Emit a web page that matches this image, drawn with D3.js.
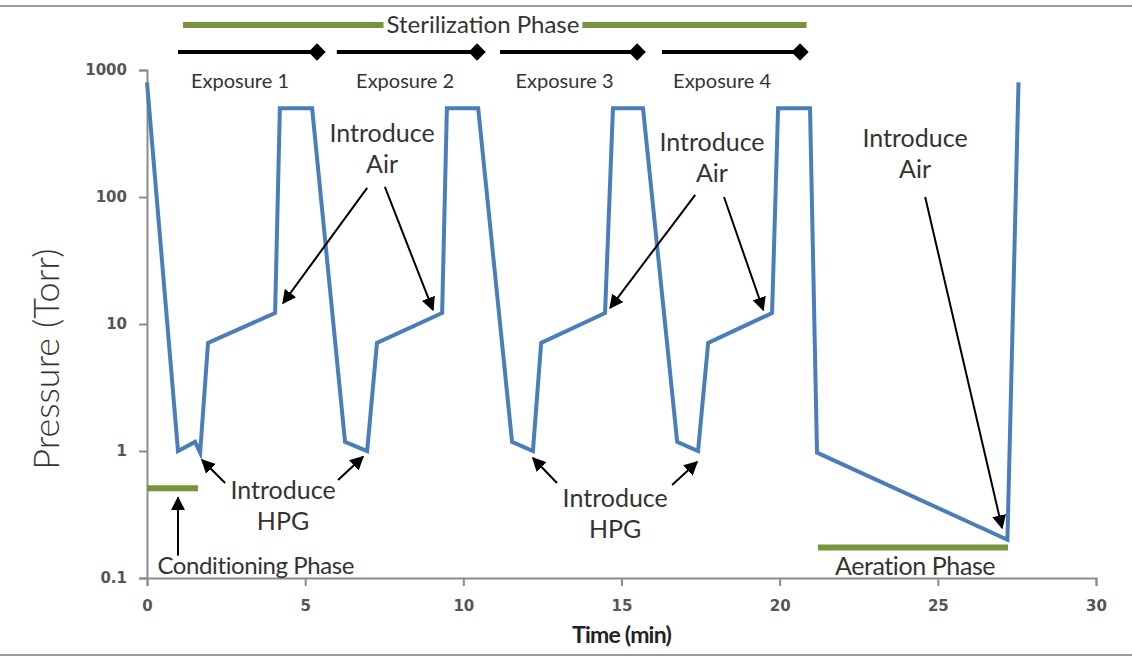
<!DOCTYPE html>
<html>
<head>
  <meta charset="utf-8">
  <title>pressure-cycle</title>
  <style>
    * { margin: 0; padding: 0; }
    body { background: #fff; }
    svg text { font-family: Lato, "Open Sans", sans-serif; fill: #333; }
    .tick text { font-family: "DejaVu Sans", sans-serif; font-weight: bold; font-size: 15px; fill: #555; }
    .domain, .tick line { stroke: #8c8c8c; stroke-width: 2; }
  </style>
</head>
<body>
  <svg id="svg"></svg>
  <script src="https://cdnjs.cloudflare.com/ajax/libs/d3/7.8.5/d3.min.js"></script>
  <script>
    const W = 1132, H = 658;
    const margin = { top: 70, right: 36, bottom: 80, left: 147 };

    // pressure trace (time in min, pressure in Torr)
    const times = [0, 0.98, 1.52, 1.68, 1.93, 4.05, 4.2, 5.22, 6.26, 6.96, 7.27, 9.33, 9.48, 10.47,
      11.54, 12.2, 12.46, 14.48, 14.73, 15.68, 16.76, 17.42, 17.74, 19.76, 19.95, 20.96, 21.18, 27.2, 27.55];
    const pressures = [800, 1.0, 1.18, 0.97, 7.1, 12.2, 500, 500, 1.18, 1.0, 7.1, 12.2, 500, 500,
      1.18, 1.0, 7.1, 12.2, 500, 500, 1.18, 1.0, 7.1, 12.2, 500, 500, 0.97, 0.2, 800];

    const xTicks = [0, 5, 10, 15, 20, 25, 30];
    const yTicks = [0.1, 1, 10, 100, 1000];

    // phases: [start, end] in minutes
    const exposures = [[0.98, 5.47], [6.0, 10.53], [11.16, 15.59], [16.28, 20.74]];
    const exposureLabels = ['Exposure 1', 'Exposure 2', 'Exposure 3', 'Exposure 4'];
    const exposureLabelT = [2.94, 8.16, 13.2, 18.18];
    const sterilization = [1.14, 20.85];
    const conditioning = [0, 1.61, 0.51];   // start, end, pressure level
    const aeration = [21.21, 27.22, 0.174];

    // annotations: text position and arrows [t0, p0, t1, p1]
    const notes = [
      { lines: ['Introduce', 'HPG'], t: 4.3, p: 0.49, arrows: [[2.47, 0.56, 1.74, 0.85], [6.04, 0.59, 6.83, 0.9]] },
      { lines: ['Introduce', 'HPG'], t: 14.8, p: 0.43, arrows: [[12.96, 0.56, 12.2, 0.88], [16.6, 0.54, 17.39, 0.82]] },
      { lines: ['Introduce', 'Air'], t: 7.43, p: 319, arrows: [[6.96, 118, 4.3, 14.6], [7.52, 120, 9.04, 12.9]] },
      { lines: ['Introduce', 'Air'], t: 17.86, p: 271, arrows: [[17.33, 104, 14.64, 13.4], [18.24, 100, 19.48, 12.9]] },
      { lines: ['Introduce', 'Air'], t: 24.28, p: 292, arrows: [[24.6, 100, 27.03, 0.248]] }
    ];

    const svg = d3.select('#svg').attr('width', W).attr('height', H);

    // frame lines
    svg.append('line').attr('x1', 0).attr('x2', W).attr('y1', 6).attr('y2', 6)
      .attr('stroke', '#999').attr('stroke-width', 2);
    svg.append('line').attr('x1', 0).attr('x2', W).attr('y1', 655).attr('y2', 655)
      .attr('stroke', '#999').attr('stroke-width', 2);

    const x = d3.scaleLinear().domain([0, 30]).range([margin.left, W - margin.right]);
    const y = d3.scaleLog().domain([0.1, 1000]).range([H - margin.bottom, margin.top]);

    svg.append('defs').append('marker')
      .attr('id', 'head')
      .attr('viewBox', '0 0 10 10')
      .attr('refX', 9).attr('refY', 5)
      .attr('markerWidth', 7).attr('markerHeight', 7)
      .attr('orient', 'auto')
      .append('path').attr('d', 'M0,0 L10,5 L0,10 z').attr('fill', '#000');

    svg.append('g')
      .attr('transform', `translate(0, ${y(0.1)})`)
      .call(d3.axisBottom(x).tickValues(xTicks).tickSize(8).tickSizeOuter(8).tickPadding(14));

    svg.append('g')
      .attr('transform', `translate(${x(0)}, 0)`)
      .call(d3.axisLeft(y).tickValues(yTicks).tickFormat(d3.format('')).tickSize(8).tickSizeOuter(8).tickPadding(12));

    svg.append('text')
      .attr('transform', `translate(46, ${(y(0.1) + y(1000)) / 2 + 35}) rotate(-90)`)
      .attr('text-anchor', 'middle')
      .attr('dy', '0.35em')
      .style('font-size', '36px').style('font-weight', 300)
      .text('Pressure (Torr)');

    svg.append('text')
      .attr('x', x(15)).attr('y', 643)
      .attr('text-anchor', 'middle')
      .style('font-size', '23px').style('font-weight', 'bold').style('letter-spacing', '-0.8px')
      .style('fill', '#222')
      .text('Time (min)');

    // phase bars
    const green = '#77933c';
    svg.append('line')
      .attr('x1', x(sterilization[0])).attr('x2', x(sterilization[1]))
      .attr('y1', 25).attr('y2', 25)
      .attr('stroke', green).attr('stroke-width', 6);
    const sterBg = svg.append('rect').attr('fill', '#fff');
    const sterText = svg.append('text')
      .attr('x', x(10.62)).attr('y', 33)
      .attr('text-anchor', 'middle')
      .style('font-size', '24px')
      .text('Sterilization Phase');
    const bb = sterText.node().getBBox();
    sterBg.attr('x', bb.x - 3).attr('y', 18).attr('width', bb.width + 6).attr('height', 14);

    exposures.forEach((e, i) => {
      svg.append('line')
        .attr('x1', x(e[0])).attr('x2', x(e[1]))
        .attr('y1', 52).attr('y2', 52)
        .attr('stroke', '#000').attr('stroke-width', 4);
      svg.append('path')
        .attr('d', d3.symbol().type(d3.symbolDiamond2).size(190))
        .attr('transform', `translate(${x(e[1]) - 3}, 52)`)
        .attr('fill', '#000');
      svg.append('text')
        .attr('x', x(exposureLabelT[i])).attr('y', 88)
        .attr('text-anchor', 'middle')
        .style('font-size', '20px')
        .text(exposureLabels[i]);
    });

    svg.append('line')
      .attr('x1', x(conditioning[0])).attr('x2', x(conditioning[1]))
      .attr('y1', y(conditioning[2])).attr('y2', y(conditioning[2]))
      .attr('stroke', green).attr('stroke-width', 6);
    svg.append('line')
      .attr('x1', x(0.98)).attr('x2', x(0.98))
      .attr('y1', y(0.15)).attr('y2', y(0.43))
      .attr('stroke', '#000').attr('stroke-width', 2).attr('marker-end', 'url(#head)');
    svg.append('text')
      .attr('x', x(0.33)).attr('y', y(0.126) + 9)
      .style('font-size', '24px').style('letter-spacing', '-0.4px')
      .text('Conditioning Phase');

    svg.append('line')
      .attr('x1', x(aeration[0])).attr('x2', x(aeration[1]))
      .attr('y1', y(aeration[2])).attr('y2', y(aeration[2]))
      .attr('stroke', green).attr('stroke-width', 6);
    svg.append('text')
      .attr('x', x(24.28)).attr('y', y(0.124) + 9)
      .attr('text-anchor', 'middle')
      .style('font-size', '25px').style('letter-spacing', '-0.4px')
      .text('Aeration Phase');

    // pressure trace
    const pts = times.map((t, i) => [t, pressures[i]]);
    svg.append('path')
      .datum(pts)
      .attr('d', d3.line().x(d => x(d[0])).y(d => y(d[1])))
      .attr('fill', 'none')
      .attr('stroke', '#4a7ebb')
      .attr('stroke-width', 4)
      .attr('stroke-linejoin', 'miter');

    // annotations
    notes.forEach(n => {
      const t = svg.append('text')
        .attr('x', x(n.t)).attr('y', y(n.p) + 9)
        .attr('text-anchor', 'middle')
        .style('font-size', '25px');
      n.lines.forEach((l, i) => {
        t.append('tspan').attr('x', x(n.t)).attr('dy', i === 0 ? 0 : 31).text(l);
      });
      n.arrows.forEach(a => {
        svg.append('line')
          .attr('x1', x(a[0])).attr('y1', y(a[1]))
          .attr('x2', x(a[2])).attr('y2', y(a[3]))
          .attr('stroke', '#000').attr('stroke-width', 2)
          .attr('marker-end', 'url(#head)');
      });
    });
  </script>
</body>
</html>
